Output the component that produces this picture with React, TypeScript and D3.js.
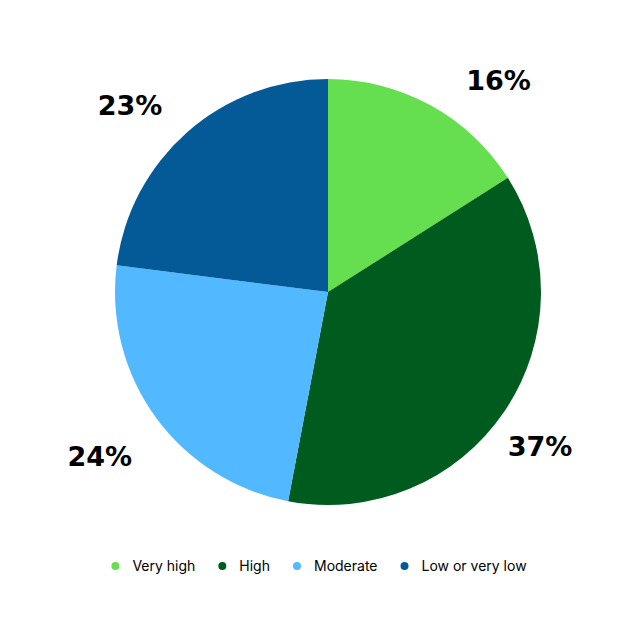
import React, { useEffect, useRef } from "react";
import * as d3 from "d3";

const categories = ["Very high", "High", "Moderate", "Low or very low"];
const values = [16, 37, 24, 23];
const labels = ["16%", "37%", "24%", "23%"];
const colors = ["#65DF50", "#005C1E", "#52B8FF", "#045A96"];

const W = 640;
const H = 640;
const CX = 328;
const CY = 292;
const R = 213;
const labelRadius = [272, 262, 281, 272];
const labelAngleNudge = [0.175, 0.031, 0.005, -0.093];

export default function App() {
  const ref = useRef<SVGSVGElement>(null);

  useEffect(() => {
    const svg = d3.select(ref.current);
    svg.selectAll("*").remove();

    const pie = d3.pie<number>().sort(null).value((d) => d)(values);
    const arc = d3.arc<d3.PieArcDatum<number>>().innerRadius(0).outerRadius(R);

    const g = svg.append("g").attr("transform", `translate(${CX},${CY})`);
    g.selectAll("path")
      .data(pie)
      .enter()
      .append("path")
      .attr("d", arc as any)
      .attr("fill", (_, i) => colors[i]);

    g.selectAll("text.lbl")
      .data(pie)
      .enter()
      .append("text")
      .attr("class", "lbl")
      .attr("x", (d, i) => labelRadius[i] * Math.sin((d.startAngle + d.endAngle) / 2 + labelAngleNudge[i]))
      .attr("y", (d, i) => -labelRadius[i] * Math.cos((d.startAngle + d.endAngle) / 2 + labelAngleNudge[i]))
      .attr("dy", "0.36em")
      .attr("text-anchor", "middle")
      .attr("font-family", "'DejaVu Sans', sans-serif")
      .attr("font-weight", "bold")
      .attr("font-size", 27)
      .attr("fill", "#000")
      .text((_, i) => labels[i]);

    // legend
    const lg = svg.append("g").attr("transform", `translate(0,566)`);
    const items = lg
      .selectAll("g.item")
      .data(categories)
      .enter()
      .append("g")
      .attr("class", "item");
    items
      .append("circle")
      .attr("r", 4)
      .attr("fill", (_, i) => colors[i]);
    const texts = items
      .append("text")
      .attr("x", 17)
      .attr("dy", "0.35em")
      .attr("font-family", "Inter, 'Noto Sans', sans-serif")
      .attr("font-size", 14)
      .attr("fill", "#000")
      .text((d) => d);
    const widths: number[] = [];
    texts.each(function () {
      widths.push((this as SVGTextElement).getComputedTextLength());
    });
    const gap = 27;
    const total = widths.reduce((s, w) => s + 17 + w, 0) + gap * (widths.length - 1) + 4;
    let x = 319 - total / 2 + 4;
    items.each(function (_, i) {
      d3.select(this).attr("transform", `translate(${x},0)`);
      x += 17 + widths[i] + gap;
    });
  }, []);

  return (
    <svg ref={ref} width={W} height={H} style={{ display: "block", position: "absolute", left: 0, top: 0, background: "#fff" }} />
  );
}
